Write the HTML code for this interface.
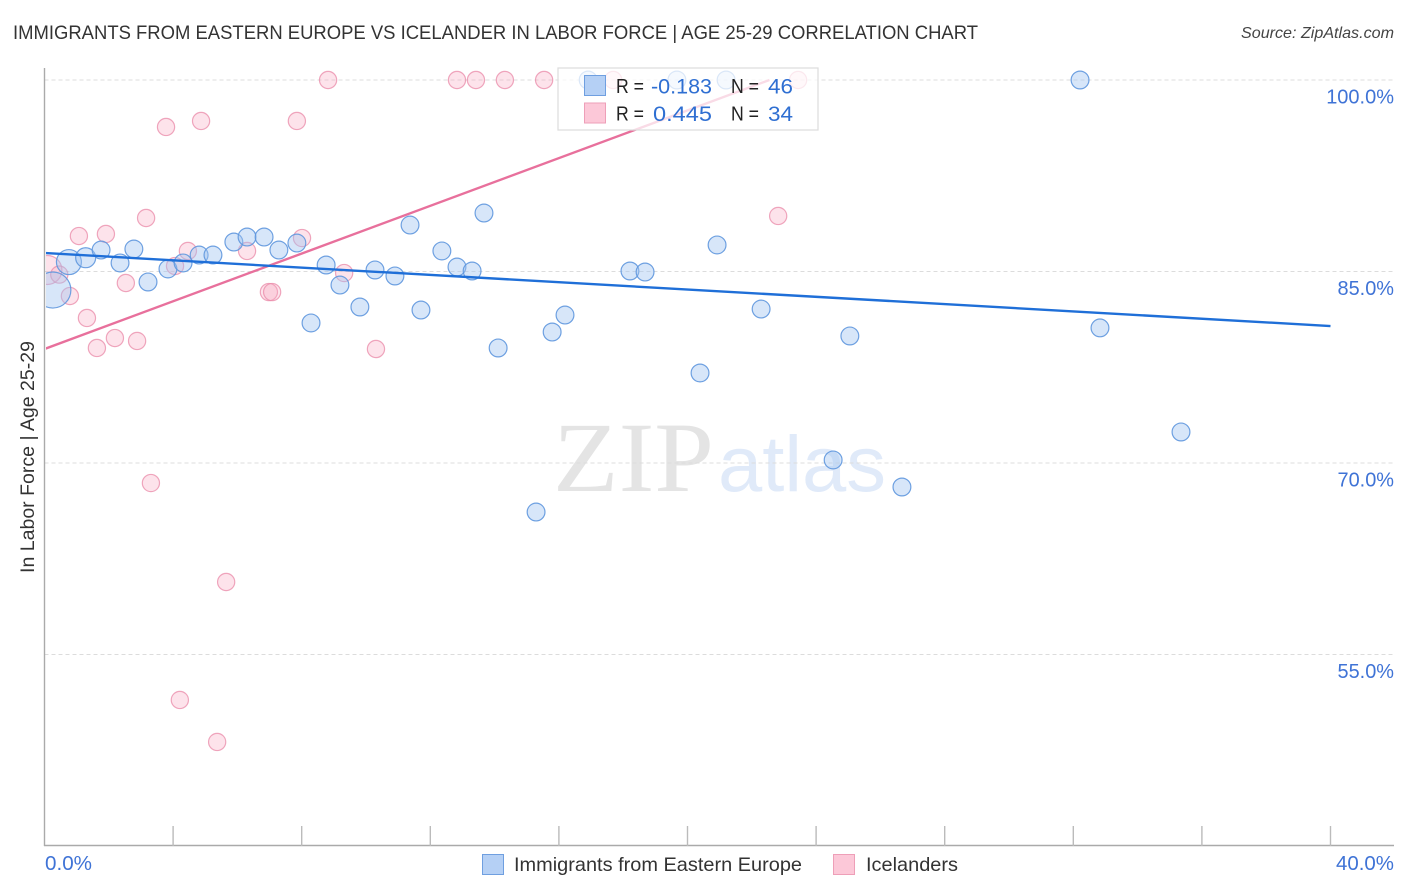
<!DOCTYPE html>
<html lang="en">
<head>
<meta charset="utf-8">
<title>Immigrants from Eastern Europe vs Icelander in Labor Force Correlation Chart</title>
<style>
  html, body { margin: 0; padding: 0; background: #fff; }
  #chart-root { position: relative; width: 1406px; height: 892px; overflow: hidden; }
  svg { display: block; font-family: "Liberation Sans", sans-serif; }
</style>
</head>
<body>
<div id="chart-root">
<svg id="chart" width="1406" height="892" viewBox="0 0 1406 892">
  <defs>
    <clipPath id="plot-clip"><rect x="46" y="60" width="1348" height="786"/></clipPath>
  </defs>
  <text x="13" y="39" font-size="19.5" fill="#333" textLength="965" lengthAdjust="spacingAndGlyphs">IMMIGRANTS FROM EASTERN EUROPE VS ICELANDER IN LABOR FORCE | AGE 25-29 CORRELATION CHART</text>
  <text x="1394" y="38" font-size="16" font-style="italic" fill="#444" text-anchor="end" textLength="153" lengthAdjust="spacingAndGlyphs">Source: ZipAtlas.com</text>
  <g id="watermark">
    <text x="553" y="491" font-family="'Liberation Serif', serif" font-size="100" fill="#e4e4e4" textLength="161" lengthAdjust="spacingAndGlyphs">ZIP</text>
    <text x="718" y="491" font-family="'Liberation Sans', sans-serif" font-size="79" fill="#e0eaf9" textLength="168" lengthAdjust="spacingAndGlyphs">atlas</text>
  </g>
  <g id="grid"></g>
  <g id="axes"></g>
  <g id="marks" clip-path="url(#plot-clip)"></g>
  <g id="trends" clip-path="url(#plot-clip)"></g>
  <text transform="translate(34 457) rotate(-90)" font-size="19.5" fill="#333" text-anchor="middle" textLength="232" lengthAdjust="spacingAndGlyphs">In Labor Force | Age 25-29</text>

  <g>
    <rect x="558" y="68" width="260" height="62" fill="#fff" fill-opacity="0.75" stroke="#dcdcdc" stroke-width="1.2"/>
    <rect x="584.500" y="75.500" width="21" height="20" fill="#b5d0f5" stroke="#6f9fe0"/>
    <rect x="584.500" y="103" width="21" height="20" fill="#fcc8d8" stroke="#ee9fb8"/>
    <g font-size="20" fill="#222">
      <text x="616" y="93" textLength="28" lengthAdjust="spacingAndGlyphs">R =</text>
      <text x="616" y="120.500" textLength="28" lengthAdjust="spacingAndGlyphs">R =</text>
      <text x="731" y="93" textLength="28" lengthAdjust="spacingAndGlyphs">N =</text>
      <text x="731" y="120.500" textLength="28" lengthAdjust="spacingAndGlyphs">N =</text>
    </g>
    <g font-size="21" fill="#2f6fd2">
      <text x="651" y="93.500" textLength="61" lengthAdjust="spacingAndGlyphs">-0.183</text>
      <text x="653" y="121" textLength="59" lengthAdjust="spacingAndGlyphs">0.445</text>
      <text x="768" y="93.500" textLength="25" lengthAdjust="spacingAndGlyphs">46</text>
      <text x="768" y="121" textLength="25" lengthAdjust="spacingAndGlyphs">34</text>
    </g>
  </g>

  <g>
    <g>
      <rect x="482.500" y="854.500" width="21" height="20" fill="#b5d0f5" stroke="#6f9fe0"/>
      <text x="514" y="871" font-size="19.500" fill="#333" textLength="288" lengthAdjust="spacingAndGlyphs">Immigrants from Eastern Europe</text>
    </g>
    <g>
      <rect x="833.500" y="854.500" width="21" height="20" fill="#fcc8d8" stroke="#ee9fb8"/>
      <text x="866" y="871" font-size="19.500" fill="#333" textLength="92" lengthAdjust="spacingAndGlyphs">Icelanders</text>
    </g>
  </g>
</svg>
</div>
<script>
const xTickValues = [0, 4, 8, 12, 16, 20, 24, 28, 32, 36, 40];
const xEdgeLabels = ['0.0%', '40.0%'];
const yTickValues = [100, 85, 70, 55];
const yTickLabels = ['100.0%', '85.0%', '70.0%', '55.0%'];

const blueX = [0.26,0.76,1.28,1.76,2.35,2.78,3.22,3.84,4.31,4.81,5.24,5.89,6.30,6.83,7.29,7.85,8.29,8.76,9.19,9.81,10.28,10.90,11.37,11.71,12.36,12.83,13.30,13.67,14.11,15.29,15.79,16.19,16.91,18.21,18.68,19.67,20.39,20.92,21.20,22.29,24.53,25.05,26.67,32.21,32.83,35.35];
const blueY = [83.55,85.74,86.08,86.68,85.67,86.76,84.18,85.20,85.67,86.29,86.29,87.31,87.70,87.70,86.68,87.23,80.97,85.51,83.94,82.22,85.12,84.65,88.64,81.98,86.61,85.35,85.04,89.58,79.01,66.16,80.26,81.59,100,85.04,84.96,100,77.05,87.08,100,82.06,70.24,79.95,68.12,100,80.58,72.43];
const blueWeight = [4.1,1.97,1.26,1,1,1,1,1,1,1,1,1,1,1,1,1,1,1,1,1,1,1,1,1,1,1,1,1,1,1,1,1,1,1,1,1,1,1,1,1,1,1,1,1,1,1];

const pinkX = [0.09,0.46,0.79,1.07,1.32,1.63,1.91,2.19,2.53,2.88,3.16,3.31,3.78,4.06,4.21,4.46,4.87,5.37,5.65,6.30,6.98,7.08,7.85,8.01,8.82,9.32,10.31,12.83,13.42,14.32,15.54,17.69,22.82,23.44];
const pinkY = [85.12,84.76,83.08,87.78,81.36,79.01,87.94,79.79,84.10,79.56,89.19,68.43,96.32,85.43,51.44,86.61,96.79,48.15,60.68,86.61,83.39,83.39,96.79,87.62,100,84.88,78.93,100,100,100,100,100,89.35,100];
const pinkWeight = [2.84,1,1,1,1,1,1,1,1,1,1,1,1,1,1,1,1,1,1,1,1,1,1,1,1,1,1,1,1,1,1,1,1,1];

const blueTrendX = [0, 40];
const blueTrendY = [86.45, 80.73];
const pinkTrendX = [0, 22.55];
const pinkTrendY = [78.93, 100];

const NS = 'http://www.w3.org/2000/svg';
const xScale = function (v) { return 44.5 + (v / 40) * 1286; };
const yScale = function (v) { return 80 + (100 - v) * 12.767; };

function make(tag, parent, attrs) {
  const el = document.createElementNS(NS, tag);
  Object.keys(attrs).forEach(function (k) { el.setAttribute(k, attrs[k]); });
  parent.appendChild(el);
  return el;
}

const grid = document.getElementById('grid');
const axes = document.getElementById('axes');
const marks = document.getElementById('marks');
const trends = document.getElementById('trends');

yTickValues.forEach(function (v, i) {
  const line = make('line', grid, { x1: 44.5, x2: 1394, y1: yScale(v), y2: yScale(v), stroke: '#dcdcdc', 'stroke-width': 1, 'stroke-dasharray': '4 3' });
  
  
  const label = make('text', axes, { x: 1394, y: yScale(v) + 23.5, 'font-size': 20, fill: '#3f73d6', 'text-anchor': 'end', textLength: yTickLabels[i].length * 11.3, lengthAdjust: 'spacingAndGlyphs' });
  label.textContent = yTickLabels[i];
  
  
});

const yAxisLine = make('line', axes, { x1: 44.5, x2: 44.5, y1: 68, y2: 846, stroke: '#aaa', 'stroke-width': 1.4 });


const xAxisLine = make('line', axes, { x1: 44, x2: 1394, y1: 845.5, y2: 845.5, stroke: '#aaa', 'stroke-width': 1.4 });



xTickValues.slice(1).forEach(function (v) {
  const tick = make('line', axes, { x1: xScale(v), x2: xScale(v), y1: 826, y2: 846, stroke: '#bbb', 'stroke-width': 1.4 });
  
  
});

const xLabelLeft = make('text', axes, { x: 45, y: 870, 'font-size': 20, fill: '#3f73d6', textLength: 47, lengthAdjust: 'spacingAndGlyphs' });
xLabelLeft.textContent = xEdgeLabels[0];


const xLabelRight = make('text', axes, { x: 1394, y: 870, 'font-size': 20, fill: '#3f73d6', 'text-anchor': 'end', textLength: 58, lengthAdjust: 'spacingAndGlyphs' });
xLabelRight.textContent = xEdgeLabels[1];



pinkX.forEach(function (v, i) {
  const dot = make('circle', marks, { cx: xScale(v), cy: yScale(pinkY[i]), r: 8.6 * Math.sqrt(pinkWeight[i]), fill: '#f8a8c0', 'fill-opacity': 0.32, stroke: '#ea8aa8', 'stroke-opacity': 0.75, 'stroke-width': 1.2 });
  
  
});

blueX.forEach(function (v, i) {
  const dot = make('circle', marks, { cx: xScale(v), cy: yScale(blueY[i]), r: 8.9 * Math.sqrt(blueWeight[i]), fill: '#a0c4f0', 'fill-opacity': 0.42, stroke: '#5f97de', 'stroke-opacity': 0.9, 'stroke-width': 1.2 });
  
  
});

const pinkTrend = make('line', trends, { x1: xScale(pinkTrendX[0]), y1: yScale(pinkTrendY[0]), x2: xScale(pinkTrendX[1]), y2: yScale(pinkTrendY[1]), stroke: '#e8709c', 'stroke-width': 2.4 });


const blueTrend = make('line', trends, { x1: xScale(blueTrendX[0]), y1: yScale(blueTrendY[0]), x2: xScale(blueTrendX[1]), y2: yScale(blueTrendY[1]), stroke: '#1f6fd8', 'stroke-width': 2.4 });


</script>
</body>
</html>
